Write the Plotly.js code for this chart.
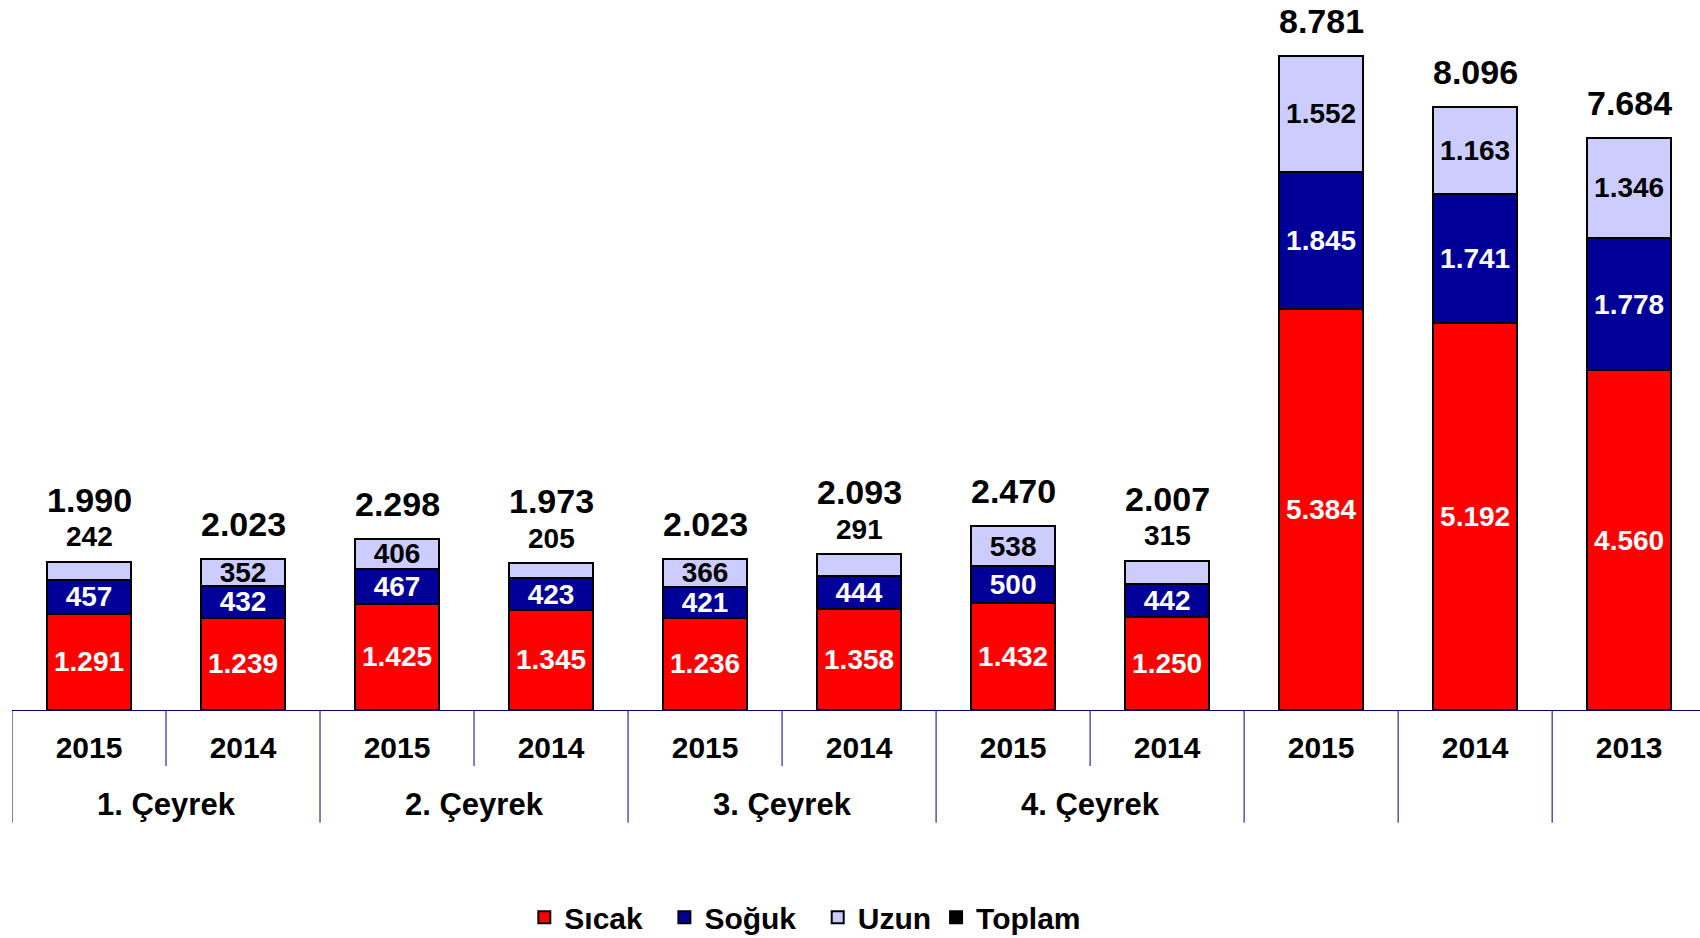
<!DOCTYPE html>
<html>
<head>
<meta charset="utf-8">
<script src="https://cdn.plot.ly/plotly-3.0.1.min.js"></script>
<style>
  html, body { margin: 0; padding: 0; background: #fff; }
  #chart { width: 1700px; height: 938px; }
</style>
</head>
<body>
<div id="chart"></div>
<script>
// --- data ---
const yillar = ['2015', '2014', '2015', '2014', '2015', '2014', '2015', '2014', '2015', '2014', '2013'];
const ceyrekler = ['1. Çeyrek', '1. Çeyrek', '2. Çeyrek', '2. Çeyrek', '3. Çeyrek', '3. Çeyrek',
                   '4. Çeyrek', '4. Çeyrek', '', '', ''];
const sicak  = [1291, 1239, 1425, 1345, 1236, 1358, 1432, 1250, 5384, 5192, 4560];
const soguk  = [457, 432, 467, 423, 421, 444, 500, 442, 1845, 1741, 1778];
const uzun   = [242, 352, 406, 205, 366, 291, 538, 315, 1552, 1163, 1346];
const toplam = [1990, 2023, 2298, 1973, 2023, 2093, 2470, 2007, 8781, 8096, 7684];

const FONT = 'Liberation Sans, Arial, sans-serif';
const NAVY_LINE = '#000080';
const UZUN_ICERI_MIN = 340;   // smaller Uzun segments get their label above the bar
const NB = '\u00a0\u00a0';    // extra room after some legend entries, as in the original

const fmt = v => v.toLocaleString('de-DE');
const idx = yillar.map((_, i) => i);

function barTrace(name, values, color, textColor, positions) {
    return {
        type: 'bar', name: name, x: idx, y: values,
        width: 0.545,
        marker: { color: color, line: { color: '#000', width: 2 } },
        text: values.map(fmt),
        textposition: positions || 'inside',
        insidetextanchor: 'middle',
        constraintext: 'none',
        textfont: { family: FONT, size: 28, weight: 'bold', color: textColor },
        hoverinfo: 'skip'
    };
}

const uzunPos = uzun.map(v => v >= UZUN_ICERI_MIN ? 'inside' : 'none');

const data = [
    barTrace('Sıcak' + NB, sicak, '#FF0000', '#FFFFFF'),
    barTrace('Soğuk' + NB, soguk, '#000099', '#FFFFFF'),
    barTrace('Uzun', uzun, '#CCCCFF', '#000000', uzunPos),
    { type: 'bar', name: 'Toplam', x: idx, y: idx.map(() => null),
      marker: { color: '#000', line: { color: '#000', width: 2 } }, hoverinfo: 'skip' }
];

// --- labels above the bars ---
const annotations = [];
toplam.forEach((t, i) => {
    const disari = uzun[i] < UZUN_ICERI_MIN;
    if (disari) {
        annotations.push({ x: i, y: t, xref: 'x', yref: 'y', text: fmt(uzun[i]), showarrow: false,
            yanchor: 'middle', yshift: 25, font: { family: FONT, size: 28, weight: 'bold', color: '#000' } });
    }
    annotations.push({ x: i, y: t, xref: 'x', yref: 'y', text: fmt(t), showarrow: false,
        yanchor: 'middle', yshift: disari ? 62 : 35, font: { family: FONT, size: 34, weight: 'bold', color: '#000' } });
});

// --- quarter labels and divider lines under the axis ---
const shapes = [];
const LONG = -0.161, SHORT = -0.08;
shapes.push({ type: 'line', xref: 'x', yref: 'paper', x0: -0.5, x1: -0.5, y0: 0, y1: LONG,
              line: { color: NAVY_LINE, width: 1 } });
for (let i = 0; i < ceyrekler.length - 1; i++) {
    const ayni = ceyrekler[i] !== '' && ceyrekler[i] === ceyrekler[i + 1];
    shapes.push({ type: 'line', xref: 'x', yref: 'paper', x0: i + 0.5, x1: i + 0.5, y0: 0, y1: ayni ? SHORT : LONG,
                  line: { color: NAVY_LINE, width: 1 } });
}
let start = 0;
for (let i = 1; i <= ceyrekler.length; i++) {
    if (i === ceyrekler.length || ceyrekler[i] !== ceyrekler[start]) {
        if (ceyrekler[start] !== '') {
            annotations.push({ x: (start + i - 1) / 2, y: -0.135, xref: 'x', yref: 'paper',
                text: ceyrekler[start], showarrow: false, yanchor: 'middle',
                font: { family: FONT, size: 31, weight: 'bold', color: '#000' } });
        }
        start = i;
    }
}

const layout = {
    width: 1700, height: 938,
    margin: { l: 12, r: 0, t: 10, b: 228 },
    barmode: 'stack',
    paper_bgcolor: '#fff', plot_bgcolor: '#fff',
    xaxis: {
        range: [-0.5, 10.46], tickvals: idx, ticktext: yillar,
        showline: true, linecolor: NAVY_LINE, linewidth: 1,
        showgrid: false, zeroline: false, ticks: '',
        ticklabelstandoff: 11,
        tickfont: { family: FONT, size: 30, weight: 'bold', color: '#000' }
    },
    yaxis: { range: [0, 9400], visible: false, showgrid: false, zeroline: false },
    showlegend: true,
    legend: {
        orientation: 'h', x: 0.3035, xanchor: 'left',
        yref: 'container', y: 0.022, yanchor: 'middle',
        traceorder: 'normal',
        font: { family: FONT, size: 30, weight: 'bold', color: '#000' }
    },
    shapes: shapes,
    annotations: annotations
};

Plotly.newPlot('chart', data, layout, { displayModeBar: false, staticPlot: true });
</script>
</body>
</html>
